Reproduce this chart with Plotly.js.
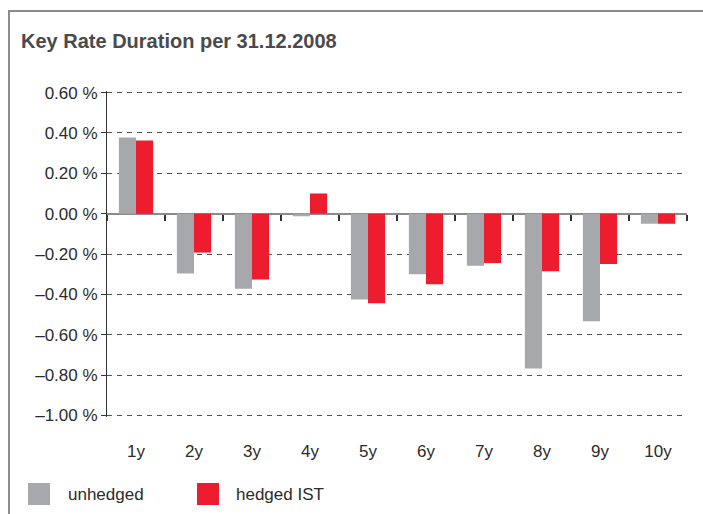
<!DOCTYPE html>
<html><head><meta charset="utf-8">
<script src="https://cdn.plot.ly/plotly-3.0.1.min.js"></script>
<style>body{margin:0;background:#fff}#chart{width:703px;height:514px}</style>
</head><body><div id="chart"></div>
<script>
const categories = ['1y','2y','3y','4y','5y','6y','7y','8y','9y','10y'];
const unhedged = [0.378, -0.297, -0.372, -0.013, -0.425, -0.300, -0.258, -0.767, -0.533, -0.050];
const hedgedIST = [0.363, -0.193, -0.327, 0.100, -0.444, -0.350, -0.245, -0.285, -0.250, -0.050];
const seriesNames = ['unhedged', 'hedged IST'];
const seriesColors = ['#A7A8AB', '#ED1C2E'];
const yTickVals = [0.6, 0.4, 0.2, 0, -0.2, -0.4, -0.6, -0.8, -1.0];
const yTickText = ['0.60 %','0.40 %','0.20 %','0.00 %','\u20130.20 %','\u20130.40 %','\u20130.60 %','\u20130.80 %','\u20131.00 %'];
const boundaryTicks = [-0.5,0.5,1.5,2.5,3.5,4.5,5.5,6.5,7.5,8.5,9.5];

const W = 703, H = 514, L = 107, R = 16, T = 91, B = 97;
const pw = W - L - R, ph = H - T - B;
const fx = px => (px - L) / pw;
const fy = py => 1 - (py - T) / ph;
const font = 'Liberation Sans, Arial, sans-serif';
const yMin = -1.008, yMax = 0.608;

const traces = [
  {type:'bar', x: categories, y: unhedged, name: seriesNames[0], marker:{color: seriesColors[0]}, showlegend:false, hoverinfo:'x+y'},
  {type:'bar', x: categories, y: hedgedIST, name: seriesNames[1], marker:{color: seriesColors[1]}, showlegend:false, hoverinfo:'x+y'},
  {type:'scatter', x: boundaryTicks, y: boundaryTicks.map(()=>0), xaxis:'x2', yaxis:'y', mode:'none', showlegend:false, hoverinfo:'skip'}
];

const shapes = [
  {type:'rect', xref:'paper', yref:'paper', x0: fx(9), x1: fx(720), y0: fy(530), y1: fy(11), line:{color:'#8c8c8c', width:2}, fillcolor:'rgba(0,0,0,0)', layer:'below'},
  {type:'rect', xref:'paper', yref:'paper', x0: fx(28), x1: fx(50), y0: fy(505), y1: fy(483), line:{width:0}, fillcolor: seriesColors[0]},
  {type:'rect', xref:'paper', yref:'paper', x0: fx(197), x1: fx(219), y0: fy(505), y1: fy(483), line:{width:0}, fillcolor: seriesColors[1]}
];
const annotations = [
  {xref:'paper', yref:'paper', x: fx(66), y: fy(494), xanchor:'left', yanchor:'middle', text: seriesNames[0], showarrow:false, font:{family:font, size:17, color:'#2b2b2b'}},
  {xref:'paper', yref:'paper', x: fx(234), y: fy(494), xanchor:'left', yanchor:'middle', text: seriesNames[1], showarrow:false, font:{family:font, size:17, color:'#2b2b2b'}}
];

const layout = {
  width: W, height: H,
  margin: {l: L, r: R, t: T, b: B, pad: 0},
  paper_bgcolor: '#fff', plot_bgcolor: '#fff',
  title: {text: 'Key Rate Duration per 31.12.2008', xref:'container', yref:'container', x: 21/W, xanchor:'left', y: 1 - 41/H, yanchor:'middle', font:{family:font, size:20, color:'#4a4a4c', weight:'bold'}},
  barmode: 'group', bargap: 0.41, bargroupgap: 0,
  xaxis: {type:'category', categoryarray: categories, range:[-0.5, 9.5], showgrid:false, zeroline:false, showline:false, ticks:'', ticklabelstandoff: 22, tickfont:{family:font, size:17, color:'#2b2b2b'}, fixedrange:true},
  xaxis2: {overlaying:'x', anchor:'free', position: (0 - yMin)/(yMax - yMin), range:[-0.5, 9.5], tickvals: boundaryTicks, showticklabels:false, ticks:'outside', ticklen:6, tickwidth:1.3, tickcolor:'#333', showgrid:false, zeroline:false, showline:false},
  yaxis: {range:[yMin, yMax], tickvals: yTickVals, ticktext: yTickText, showgrid:true, gridcolor:'#555', griddash:'5px,5px', gridwidth:1, zeroline:true, zerolinecolor:'#8a8a8a', zerolinewidth:2, showline:true, linecolor:'#333', linewidth:1, ticks:'outside', ticklen:5, tickcolor:'#333', tickfont:{family:font, size:17, color:'#2b2b2b'}, fixedrange:true},
  shapes: shapes,
  annotations: annotations,
  showlegend: false
};
Plotly.newPlot('chart', traces, layout, {displayModeBar:false, staticPlot:true});
</script></body></html>
